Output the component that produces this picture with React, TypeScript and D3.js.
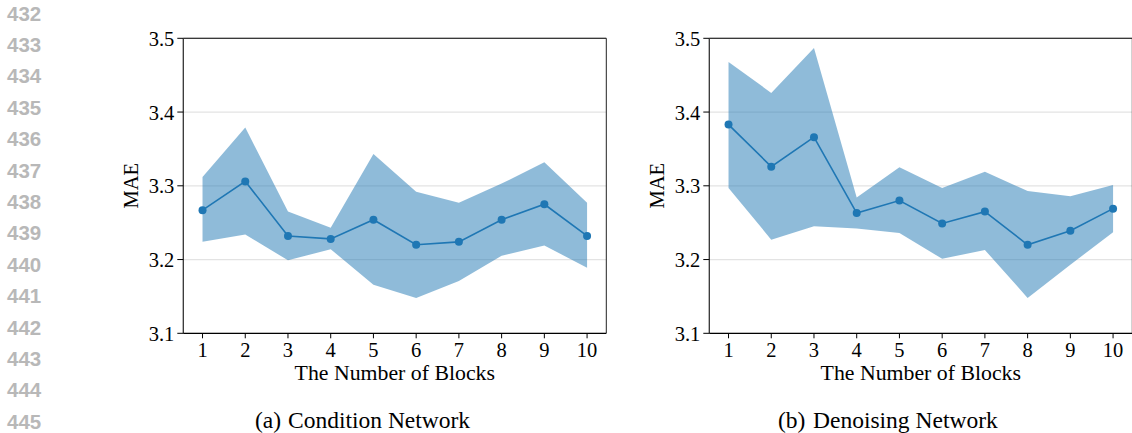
import React from 'react';
import * as d3 from 'd3';

// number of blocks on the x axis
const blocks = [1, 2, 3, 4, 5, 6, 7, 8, 9, 10];
const yTicks = [3.1, 3.2, 3.3, 3.4, 3.5];
const lineNumbers = [432, 433, 434, 435, 436, 437, 438, 439, 440, 441, 442, 443, 444, 445];

// (a) Condition Network
const condMean = [3.267, 3.306, 3.232, 3.228, 3.254, 3.220, 3.224, 3.254, 3.275, 3.232];
const condUpper = [3.312, 3.379, 3.265, 3.243, 3.343, 3.292, 3.277, 3.303, 3.332, 3.277];
const condLower = [3.224, 3.234, 3.199, 3.214, 3.166, 3.148, 3.171, 3.205, 3.219, 3.189];

// (b) Denoising Network
const denMean = [3.383, 3.326, 3.366, 3.263, 3.280, 3.249, 3.265, 3.220, 3.239, 3.269];
const denUpper = [3.468, 3.426, 3.487, 3.284, 3.325, 3.297, 3.319, 3.293, 3.286, 3.301];
const denLower = [3.297, 3.227, 3.245, 3.242, 3.236, 3.201, 3.213, 3.148, 3.193, 3.237];

const W = 1132;
const H = 433;
const TOP = 38.3;
const PH = 295;
const PW = 423;
const BLUE = '#1f77b4';
const SERIF = '"Liberation Serif", "DejaVu Serif", Times, serif';

interface PanelProps {
  left: number;
  mean: number[];
  upper: number[];
  lower: number[];
}

const Panel: React.FC<PanelProps> = ({ left, mean, upper, lower }) => {
  const x = d3.scaleLinear().domain([0.55, 10.45]).range([0, PW]);
  const y = d3.scaleLinear().domain([3.1, 3.5]).range([PH, 0]);

  const band = d3.area<number>()
    .x((_d, i) => x(blocks[i]))
    .y0((_d, i) => y(lower[i]))
    .y1((d) => y(d));

  const line = d3.line<number>()
    .x((_d, i) => x(blocks[i]))
    .y((d) => y(d));

  return (
    <g transform={`translate(${left},${TOP})`}>
      {/* grid */}
      {yTicks.map((t) => (
        <line key={'g' + t} x1={0} x2={PW} y1={y(t)} y2={y(t)} stroke="#e3e3e3" strokeWidth={1.2} />
      ))}
      <path d={band(upper) || ''} fill={BLUE} fillOpacity={0.5} />
      <path d={line(mean) || ''} fill="none" stroke={BLUE} strokeWidth={1.6} />
      {mean.map((v, i) => (
        <circle key={'m' + i} cx={x(blocks[i])} cy={y(v)} r={4} fill={BLUE} />
      ))}
      {/* frame */}
      <line x1={0} x2={PW} y1={0} y2={0} stroke="#000" strokeWidth={1.1} />
      <line x1={PW} x2={PW} y1={0} y2={PH} stroke="#222" strokeWidth={1} />
      <line x1={0} x2={0} y1={0} y2={PH} stroke="#333" strokeWidth={1.3} />
      <line x1={0} x2={PW} y1={PH} y2={PH} stroke="#000" strokeWidth={1.3} />
      {/* y axis */}
      {yTicks.map((t) => (
        <g key={'y' + t}>
          <line x1={-6} x2={0} y1={y(t)} y2={y(t)} stroke="#000" strokeWidth={1} />
          <text x={-9} y={y(t) + 7.5} textAnchor="end" fontSize={20.5} fontFamily={SERIF} fill="#000">
            {t.toFixed(1)}
          </text>
        </g>
      ))}
      {/* x axis */}
      {blocks.map((b) => (
        <g key={'x' + b}>
          <line x1={x(b)} x2={x(b)} y1={PH} y2={PH + 5} stroke="#000" strokeWidth={1} />
          <text x={x(b)} y={PH + 23.5} textAnchor="middle" fontSize={20.5} fontFamily={SERIF} fill="#000">
            {b}
          </text>
        </g>
      ))}
      <text x={PW / 2} y={PH + 47} textAnchor="middle" fontSize={21.8} fontFamily={SERIF} fill="#000">
        The Number of Blocks
      </text>
      <text
        transform={`translate(${-45},${PH / 2}) rotate(-90)`}
        textAnchor="middle"
        fontSize={20.5}
        fontFamily={SERIF}
        fill="#000"
      >
        MAE
      </text>
    </g>
  );
};

const App: React.FC = () => {
  return (
    <svg
      width={W}
      height={H}
      viewBox={`0 0 ${W} ${H}`}
      style={{ position: 'fixed', left: 0, top: 0, display: 'block', background: '#fff' }}
    >
      <rect width={W} height={H} fill="#fff" />
      {lineNumbers.map((n, i) => (
        <text
          key={n}
          x={7}
          y={20.5 + i * 31.4}
          fontSize={20.5}
          fontWeight="bold"
          fontFamily='"Liberation Sans", Arial, sans-serif'
          fill="#b8b8b8"
        >
          {n}
        </text>
      ))}
      <Panel left={183.3} mean={condMean} upper={condUpper} lower={condLower} />
      <Panel left={709.3} mean={denMean} upper={denUpper} lower={denLower} />
      <text y={428} fontSize={23.5} fontFamily={SERIF} fill="#000">
        <tspan x={255}>(a)</tspan>
        <tspan x={288}>Condition Network</tspan>
      </text>
      <text y={428} fontSize={23.5} fontFamily={SERIF} fill="#000">
        <tspan x={778}>(b)</tspan>
        <tspan x={813}>Denoising Network</tspan>
      </text>
    </svg>
  );
};

export default App;
